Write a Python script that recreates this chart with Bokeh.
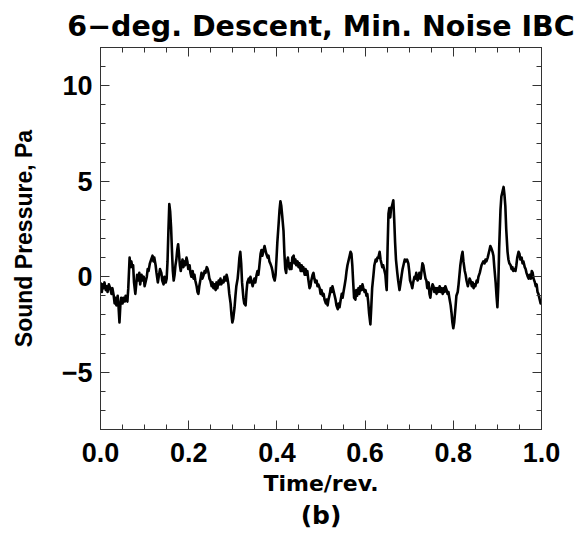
from bokeh.plotting import figure
from bokeh.models import LinearAxis, FixedTicker, Title, Range1d
from bokeh.embed import file_html
from bokeh.resources import INLINE

# ---- data ----
time_rev = [
    0.000, 0.003, 0.005, 0.007, 0.009, 0.012, 0.014, 0.016, 0.019, 0.022,
    0.025, 0.027, 0.030, 0.032, 0.034, 0.036, 0.039, 0.041, 0.043, 0.045,
    0.047, 0.050, 0.052, 0.055, 0.057, 0.059, 0.061, 0.063, 0.066, 0.068,
    0.070, 0.072, 0.074, 0.076, 0.079, 0.081, 0.083, 0.086, 0.088, 0.090,
    0.093, 0.095, 0.098, 0.100, 0.102, 0.105, 0.107, 0.109, 0.112, 0.115,
    0.118, 0.120, 0.122, 0.125, 0.127, 0.130, 0.132, 0.135, 0.138, 0.140,
    0.143, 0.145, 0.148, 0.150, 0.152, 0.154, 0.156, 0.158, 0.160, 0.162,
    0.164, 0.166, 0.168, 0.170, 0.172, 0.174, 0.176, 0.178, 0.180, 0.182,
    0.184, 0.186, 0.188, 0.190, 0.192, 0.195, 0.197, 0.199, 0.202, 0.204,
    0.206, 0.209, 0.211, 0.213, 0.215, 0.218, 0.220, 0.222, 0.224, 0.227,
    0.229, 0.231, 0.234, 0.236, 0.238, 0.241, 0.243, 0.245, 0.247, 0.249,
    0.252, 0.254, 0.256, 0.258, 0.261, 0.263, 0.265, 0.268, 0.270, 0.272,
    0.274, 0.277, 0.279, 0.281, 0.284, 0.286, 0.288, 0.290, 0.292, 0.295,
    0.297, 0.299, 0.301, 0.304, 0.306, 0.308, 0.311, 0.313, 0.315, 0.317,
    0.319, 0.321, 0.324, 0.326, 0.329, 0.331, 0.333, 0.336, 0.338, 0.340,
    0.342, 0.345, 0.347, 0.349, 0.351, 0.354, 0.356, 0.358, 0.360, 0.363,
    0.365, 0.367, 0.369, 0.372, 0.374, 0.376, 0.379, 0.381, 0.383, 0.385,
    0.388, 0.390, 0.392, 0.395, 0.397, 0.399, 0.401, 0.404, 0.406, 0.408,
    0.410, 0.412, 0.415, 0.417, 0.419, 0.421, 0.423, 0.425, 0.427, 0.429,
    0.431, 0.433, 0.435, 0.438, 0.440, 0.442, 0.444, 0.447, 0.449, 0.451,
    0.454, 0.456, 0.458, 0.460, 0.463, 0.465, 0.467, 0.469, 0.471, 0.474,
    0.476, 0.478, 0.481, 0.483, 0.485, 0.487, 0.490, 0.492, 0.494, 0.497,
    0.499, 0.501, 0.504, 0.506, 0.508, 0.511, 0.513, 0.515, 0.517, 0.520,
    0.522, 0.524, 0.526, 0.528, 0.531, 0.533, 0.535, 0.538, 0.540, 0.542,
    0.544, 0.547, 0.549, 0.551, 0.554, 0.556, 0.558, 0.560, 0.563, 0.565,
    0.567, 0.569, 0.571, 0.573, 0.575, 0.578, 0.580, 0.582, 0.585, 0.587,
    0.589, 0.592, 0.594, 0.596, 0.599, 0.601, 0.603, 0.605, 0.607, 0.609,
    0.612, 0.614, 0.616, 0.619, 0.621, 0.624, 0.626, 0.628, 0.630, 0.633,
    0.635, 0.637, 0.639, 0.641, 0.644, 0.646, 0.648, 0.649, 0.651, 0.653,
    0.655, 0.657, 0.659, 0.661, 0.664, 0.666, 0.668, 0.670, 0.673, 0.675,
    0.678, 0.680, 0.683, 0.685, 0.688, 0.690, 0.692, 0.695, 0.698, 0.700,
    0.702, 0.705, 0.707, 0.709, 0.712, 0.714, 0.716, 0.719, 0.721, 0.723,
    0.726, 0.728, 0.730, 0.732, 0.734, 0.737, 0.739, 0.741, 0.744, 0.746,
    0.748, 0.750, 0.753, 0.755, 0.757, 0.760, 0.762, 0.764, 0.766, 0.769,
    0.771, 0.773, 0.776, 0.778, 0.780, 0.782, 0.785, 0.787, 0.789, 0.791,
    0.794, 0.796, 0.798, 0.800, 0.802, 0.805, 0.807, 0.810, 0.812, 0.814,
    0.816, 0.819, 0.821, 0.823, 0.826, 0.828, 0.830, 0.833, 0.835, 0.837,
    0.839, 0.842, 0.844, 0.846, 0.848, 0.850, 0.853, 0.855, 0.857, 0.860,
    0.862, 0.864, 0.866, 0.868, 0.871, 0.873, 0.875, 0.878, 0.880, 0.882,
    0.884, 0.886, 0.889, 0.891, 0.893, 0.896, 0.898, 0.900, 0.902, 0.904,
    0.907, 0.909, 0.912, 0.914, 0.916, 0.918, 0.920, 0.923, 0.925, 0.927,
    0.930, 0.932, 0.934, 0.936, 0.939, 0.941, 0.943, 0.945, 0.948, 0.950,
    0.952, 0.955, 0.957, 0.959, 0.962, 0.964, 0.966, 0.969, 0.971, 0.973,
    0.976, 0.978, 0.980, 0.982, 0.985, 0.987, 0.989, 0.991, 0.993, 0.996,
    0.998, 1.000]
pressure_pa = [
    -0.3, -0.8, -0.4, -0.6, -0.3, -0.7, -0.5, -0.8, -0.4, -0.6,
    -0.9, -0.6, -1.0, -1.4, -1.1, -1.5, -1.0, -1.6, -2.4, -1.5,
    -1.1, -1.4, -1.1, -1.3, -1.0, -1.2, -1.3, -0.6, 1.0, 0.5,
    0.8, 0.5, 0.6, -0.3, -0.9, -0.4, 0.1, -0.2, 0.2, -0.4,
    0.1, -0.2, 0.0, -0.5, -0.3, 0.0, 0.4, 0.3, 0.7, 0.9,
    1.1, 0.8, 1.0, 0.6, 0.2, -0.3, 0.0, 0.4, 0.2, -0.2,
    -0.4, 0.0, -0.3, -0.1, 0.8, 2.4, 3.8, 3.4, 2.6, 1.4,
    0.3, -0.2, 0.1, 0.6, 0.9, 1.4, 1.7, 1.2, 0.6, 0.3,
    0.6, 0.9, 0.5, 0.8, 0.6, 1.0, 0.8, 0.4, 0.6, 0.2,
    0.0, 0.3, -0.1, 0.1, -0.2, -0.5, -0.8, -0.9, -0.5, -0.1,
    0.2, -0.1, 0.1, 0.3, 0.2, 0.5, 0.4, 0.2, -0.1, -0.2,
    -0.5, -0.3, -0.6, -0.4, -0.7, -0.3, -0.6, -0.2, -0.4, -0.1,
    -0.4, -0.2, -0.3, 0.0, -0.2, 0.1, -0.1, -0.4, -0.9, -1.4,
    -2.0, -2.4, -2.2, -1.6, -1.0, -0.5, -0.1, 0.4, 1.0, 1.3,
    0.7, -0.3, -1.1, -1.4, -1.5, -0.8, -0.3, -0.1, -0.3, 0.0,
    -0.2, -0.5, -0.3, -0.1, -0.3, 0.1, 0.3, 0.1, 0.5, 1.2,
    1.4, 1.1, 1.3, 1.6, 1.4, 1.2, 1.0, 1.1, 0.8, 0.7,
    0.5, 0.3, 0.0, -0.2, 0.1, 0.9, 1.8, 2.8, 3.5, 3.95,
    3.7, 3.2, 2.4, 1.2, 0.4, 0.2, 0.8, 1.0, 0.6, 0.4,
    0.7, 0.4, 1.0, 1.1, 0.7, 0.9, 0.6, 0.8, 0.5, 0.7,
    0.3, 0.6, 0.3, 0.5, 0.1, 0.4, 0.1, 0.3, -0.1, -0.6,
    -0.5, -0.2, 0.1, 0.2, -0.1, -0.3, -0.2, -0.5, -0.4, -0.6,
    -0.9, -0.7, -1.0, -0.9, -1.2, -1.4, -1.2, -1.5, -1.2, -0.9,
    -0.6, -0.8, -0.5, -0.7, -1.0, -1.2, -1.5, -1.7, -1.4, -1.6,
    -1.3, -0.9, -1.1, -0.8, -0.4, -0.1, 0.3, 0.6, 0.9, 1.1,
    1.3, 1.2, 0.6, -0.3, -1.1, -1.2, -0.7, -1.0, -0.6, -0.9,
    -0.5, -0.7, -0.4, -0.6, -0.8, -0.7, -1.0, -0.9, -1.3, -1.9,
    -2.5, -1.6, -0.6, 0.1, 0.6, 0.9, 0.8, 1.0, 1.0, 1.3,
    0.9, 0.7, 0.5, 0.6, 0.3, 0.1, -0.5, -0.7, 1.5, 3.3,
    3.6, 3.1, 3.6, 3.7, 4.0, 3.0, 1.8, 0.9, 0.2, -0.2,
    -0.7, -0.4, 0.1, 0.4, 0.7, 0.9, 0.8, 0.9, 0.7, 0.3,
    -0.2, -0.4, -0.6, -0.3, 0.0, -0.1, 0.2, -0.2, -0.1, 0.2,
    -0.1, 0.3, 0.7, 0.6, 0.3, -0.1, -0.2, -0.6, -0.3, -0.9,
    -1.1, -0.7, -0.4, -0.5, -0.8, -0.6, -0.9, -0.6, -0.8, -0.5,
    -0.8, -0.6, -0.9, -0.6, -0.8, -0.5, -0.7, -0.9, -0.8, -1.1,
    -1.5, -1.9, -2.4, -2.7, -2.4, -1.6, -1.0, -0.8, -0.4, 0.1,
    0.6, 1.1, 1.3, 0.8, 0.3, 0.1, -0.2, -0.5, -0.3, -0.1,
    -0.2, -0.5, -0.3, -0.6, -0.4, -0.5, -0.2, -0.3, 0.0, 0.2,
    0.4, 0.6, 0.7, 0.8, 0.7, 0.9, 0.8, 1.0, 1.2, 1.4,
    1.6, 1.5, 1.3, 1.1, 0.5, -0.3, -1.0, -1.6, -0.5, 1.5,
    3.5, 4.2, 4.5, 4.7, 4.3, 3.7, 2.5, 1.3, 0.9, 0.7,
    0.6, 0.4, 0.5, 0.3, 0.4, 0.3, 0.6, 1.0, 1.3, 1.2,
    0.9, 1.0, 0.7, 0.8, 0.5, 0.4, 0.2, 0.0, -0.1, 0.1,
    -0.1, 0.3, 0.2, -0.1, -0.3, -0.5, -0.4, -0.8, -0.9, -1.2,
    -1.4, -1.3]

x_major = [0.0, 0.2, 0.4, 0.6, 0.8, 1.0]
x_tick_labels = ["0.0", "0.2", "0.4", "0.6", "0.8", "1.0"]
y_major = [-5, 0, 5, 10]
y_tick_labels = ["\u22125", "0", "5", "10"]

title_text = "6\u2212deg. Descent, Min. Noise IBC"
x_label = "Time/rev."
y_label = "Sound Pressure, Pa"
sub_label = "(b)"

x_minor = [round(i * 0.05, 2) for i in range(0, 21)]
y_minor = list(range(-8, 13))

p = figure(width=584, height=535, output_backend="svg", toolbar_location=None,
           x_range=Range1d(0, 1), y_range=Range1d(-8, 12),
           min_border_left=100, min_border_right=43,
           min_border_top=47, min_border_bottom=106,
           background_fill_color="white", border_fill_color="white")
p.grid.visible = False
p.outline_line_color = "#333333"
p.outline_line_width = 1

p.title.text = title_text
p.title.align = "center"
p.title.text_font = "DejaVu Sans"
p.title.text_font_style = "bold"
p.title.text_font_size = "28.5px"
p.title.text_color = "black"

xt = FixedTicker(ticks=x_major, minor_ticks=x_minor)
yt = FixedTicker(ticks=y_major, minor_ticks=y_minor)


def style_axis(ax, ticker, show_labels):
    ax.ticker = ticker
    ax.axis_line_color = "#333333"
    ax.major_tick_line_color = "#333333"
    ax.minor_tick_line_color = "#333333"
    ax.major_tick_in = 9
    ax.major_tick_out = 0
    ax.minor_tick_in = 5
    ax.minor_tick_out = 0
    if not show_labels:
        ax.major_label_text_font_size = "0px"
        ax.major_label_standoff = 0


style_axis(p.xaxis[0], xt, True)
style_axis(p.yaxis[0], yt, True)
p.xaxis.major_label_overrides = {v: s for v, s in zip(x_major, x_tick_labels)}
p.yaxis.major_label_overrides = {v: s for v, s in zip(y_major, y_tick_labels)}
for ax in (p.xaxis[0], p.yaxis[0]):
    ax.major_label_text_font = "Liberation Sans"
    ax.major_label_text_font_style = "bold"
    ax.major_label_text_font_size = "27px"
    ax.major_label_text_color = "black"
    ax.axis_label_text_font_style = "bold"
    ax.axis_label_text_color = "black"
p.xaxis.axis_label = x_label
p.xaxis.axis_label_text_font = "DejaVu Sans"
p.xaxis.axis_label_text_font_size = "22px"
p.xaxis.major_label_standoff = 13
p.xaxis.axis_label_standoff = 6
p.yaxis.axis_label = y_label
p.yaxis.axis_label_text_font = "Liberation Sans"
p.yaxis.axis_label_text_font_size = "23px"
p.yaxis.major_label_standoff = 8
p.yaxis.axis_label_standoff = 22

top_ax = LinearAxis()
style_axis(top_ax, xt, False)
right_ax = LinearAxis()
style_axis(right_ax, yt, False)
p.add_layout(top_ax, "above")
p.add_layout(right_ax, "right")

p.add_layout(Title(text=sub_label, align="center", text_font="DejaVu Sans",
                   text_font_style="bold", text_font_size="25px",
                   text_color="black", standoff=0), "below")

p.line(time_rev, pressure_pa, line_color="black", line_width=2.6,
       line_join="round")

open("out.html", "w").write(file_html(p, INLINE))
